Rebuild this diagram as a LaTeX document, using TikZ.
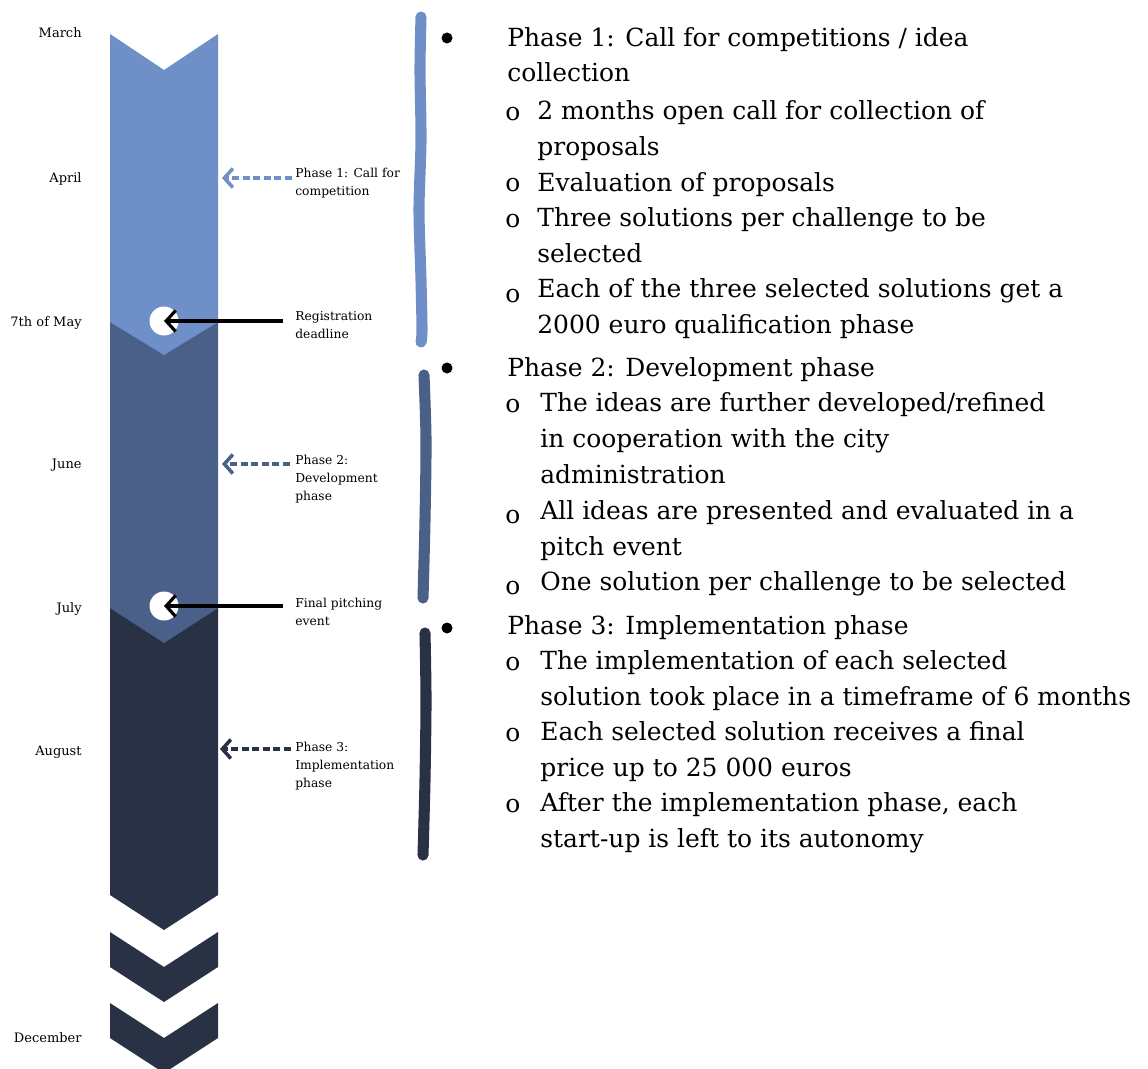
\documentclass[tikz,border=0pt]{standalone}
\usepackage{fontspec}
\setmainfont{DejaVu Serif}
\usepackage{tikz}
\usetikzlibrary{arrows.meta}
\definecolor{phaseone}{RGB}{111,143,201}
\definecolor{phasetwo}{RGB}{75,96,137}
\definecolor{phasethree}{RGB}{41,49,68}
\tikzstyle{month} = [anchor=base east, inner sep=0, font=\fontsize{7.4}{10}\selectfont]
\tikzstyle{note} = [anchor=base west, align=left, inner sep=0, font=\fontsize{7}{10.2}\selectfont]
\tikzstyle{phase} = [anchor=base west, align=left, inner sep=0, font=\fontsize{14.2}{20.4}\selectfont]
\tikzstyle{sub} = [anchor=base west, inner sep=0, font=\fontsize{14.2}{20.4}\selectfont]
\tikzstyle{bullet} = [circle, fill=black, minimum size=0.22cm, inner sep=0]
\tikzstyle{milestone} = [circle, fill=white, minimum size=0.58cm, inner sep=0]
\tikzstyle{pointer} = [line width=1.8pt, -{Straight Barb[length=1.9mm, width=4.2mm]}]
\tikzstyle{dasharrow} = [line width=2pt, dash pattern=on 4pt off 2pt, -{Straight Barb[length=1.7mm, width=3.8mm]}]
\tikzstyle{bracket} = [line width=6.3pt, line cap=round]

\begin{document}
\begin{tikzpicture}[x=0.02cm, y=-0.02cm]
    \clip (0,0) rectangle (1148,1068);
    \fill[white] (0,0) rectangle (1148,1068);

    % timeline band
    \fill[phasethree] (110,608) -- (218,608) -- (218,895) -- (164,930) -- (110,895) -- cycle;
    \fill[phasethree] (110,932) -- (164,967) -- (218,932) -- (218,967) -- (164,1002) -- (110,967) -- cycle;
    \fill[phasethree] (110,1003) -- (164,1038) -- (218,1003) -- (218,1038) -- (164,1073) -- (110,1038) -- cycle;
    \fill[phasetwo] (110,322) -- (218,322) -- (218,608) -- (164,643) -- (110,608) -- cycle;
    \fill[phaseone] (110,34) -- (164,70) -- (218,34) -- (218,322) -- (164,355) -- (110,322) -- cycle;

    % months
    \node (march) [month] at (82,38) {March};
    \node (april) [month] at (82,182) {April};
    \node (may) [month] at (82,326) {7th of May};
    \node (june) [month] at (82,468) {June};
    \node (july) [month] at (82,612) {July};
    \node (august) [month] at (82,755) {August};
    \node (december) [month] at (82,1042) {December};

    % milestones (notes sit on their last line)
    \node (regdot) [milestone] at (164,321) {};
    \node (pitchdot) [milestone] at (164,606) {};
    \coordinate (oneedge) at (222,178);
    \coordinate (twoedge) at (222,464);
    \coordinate (threeedge) at (220,749);

    \node (onenote) [note] at (295,195) {Phase 1: Call for\\competition};
    \node (regnote) [note] at (295,338) {Registration\\deadline};
    \node (twonote) [note] at (295,500) {Phase 2:\\Development\\phase};
    \node (pitchnote) [note] at (295,625) {Final pitching\\event};
    \node (threenote) [note] at (295,787) {Phase 3:\\Implementation\\phase};

    \draw [dasharrow, phaseone] (oneedge -| onenote.west) ++(-3,0) -- (oneedge);
    \draw [dasharrow, phasetwo] (twoedge -| twonote.west) ++(-5,0) -- (twoedge);
    \draw [dasharrow, phasethree] (threeedge -| threenote.west) ++(-4,0) -- (threeedge);
    \draw [pointer] (regdot -| regnote.west) ++(-12,0) -- (regdot.center);
    \draw [pointer] (pitchdot -| pitchnote.west) ++(-12,0) -- (pitchdot.center);

    % brackets
    \draw [bracket, phaseone] plot[smooth] coordinates {(421,17) (420,70) (421,140) (419,210) (421,280) (422,330) (421,342)};
    \draw [bracket, phasetwo] plot[smooth] coordinates {(424,375) (426,440) (425,520) (423,598)};
    \draw [bracket, phasethree] plot[smooth] coordinates {(425,633) (426,700) (425,780) (423,855)};

    % phase 1 text
    \node (bone) [bullet] at (447,38) {};
    \node (pone) [phase] at (507,82) {Phase 1: Call for competitions / idea\\collection};
    \node (oa) [sub] at (505,120) {o};
    \node (ia) [phase] at (537,155) {2 months open call for collection of\\proposals};
    \node (ob) [sub] at (505,191) {o};
    \node (ib) [phase] at (537,191) {Evaluation of proposals};
    \node (oc) [sub] at (505,227) {o};
    \node (ic) [phase] at (537,262) {Three solutions per challenge to be\\selected};
    \node (od) [sub] at (505,302) {o};
    \node (id) [phase] at (537,333) {Each of the three selected solutions get a\\2000 euro qualification phase};

    % phase 2 text
    \node (btwo) [bullet] at (447,368) {};
    \node (ptwo) [phase] at (507,376) {Phase 2: Development phase};
    \node (oe) [sub] at (505,412) {o};
    \node (ie) [phase] at (540,483) {The ideas are further developed/refined\\in cooperation with the city\\administration};
    \node (of) [sub] at (505,523) {o};
    \node (iff) [phase] at (540,555) {All ideas are presented and evaluated in a\\pitch event};
    \node (og) [sub] at (505,594) {o};
    \node (ig) [phase] at (540,590) {One solution per challenge to be selected};

    % phase 3 text
    \node (bthree) [bullet] at (447,628) {};
    \node (pthree) [phase] at (507,634) {Phase 3: Implementation phase};
    \node (oh) [sub] at (505,670) {o};
    \node (ih) [phase] at (540,705) {The implementation of each selected\\solution took place in a timeframe of 6 months};
    \node (oi) [sub] at (505,741) {o};
    \node (ii) [phase] at (540,776) {Each selected solution receives a final\\price up to 25 000 euros};
    \node (oj) [sub] at (505,812) {o};
    \node (ij) [phase] at (540,847) {After the implementation phase, each\\start-up is left to its autonomy};
\end{tikzpicture}
\end{document}
